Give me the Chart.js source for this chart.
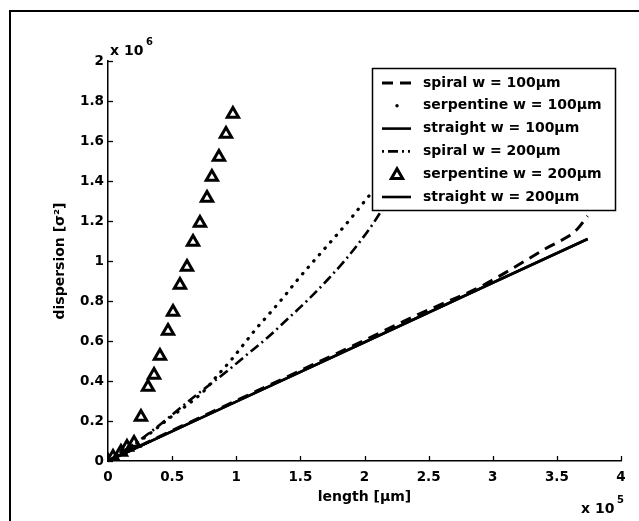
<!DOCTYPE html>
<html><head><meta charset="utf-8">
<script src="https://cdn.jsdelivr.net/npm/chart.js@4.4.0/dist/chart.umd.min.js"></script>
<style>html,body{margin:0;padding:0;background:#fff}#wrap{width:639px;height:521px;position:relative}</style>
</head><body><div id="wrap"><canvas id="c"></canvas></div>
<script>
// length in units of 1e5 um, dispersion in units of 1e6
const spiral100Length = [0, 0.5, 1, 1.5, 2, 2.4, 2.64, 2.9, 3.16, 3.42, 3.58, 3.66, 3.74];
const spiral100Disp   = [0, 0.152, 0.302, 0.452, 0.604, 0.727, 0.795, 0.87, 0.965, 1.065, 1.12, 1.16, 1.225];

const serp100Length = [0, 0.27, 0.48, 0.74, 0.85, 0.96, 1.06, 1.16, 1.27, 1.37, 1.47, 1.57, 1.68, 1.79, 1.89, 1.99, 2.2];
const serp100Disp   = [0, 0.11, 0.215, 0.345, 0.425, 0.505, 0.585, 0.665, 0.745, 0.82, 0.90, 0.975, 1.055, 1.135, 1.21, 1.29, 1.455];

const straight100Length = [0, 1, 2, 3, 3.74];
const straight100Disp   = [0, 0.297, 0.594, 0.891, 1.11];

const spiral200Length = [0, 0.27, 0.46, 0.62, 0.8, 0.93, 1.08, 1.24, 1.4, 1.55, 1.71, 1.85, 1.98, 2.07, 2.15];
const spiral200Disp   = [0, 0.115, 0.21, 0.295, 0.385, 0.45, 0.53, 0.615, 0.71, 0.80, 0.905, 1.005, 1.11, 1.19, 1.27];

const serp200Length = [0, 0.039, 0.101, 0.148, 0.203, 0.257, 0.312, 0.359, 0.405, 0.468, 0.507, 0.561, 0.616, 0.663, 0.717, 0.772, 0.81, 0.865, 0.92, 0.974];
const serp200Disp   = [0, 0.02, 0.045, 0.07, 0.09, 0.22, 0.37, 0.43, 0.525, 0.65, 0.745, 0.88, 0.97, 1.095, 1.19, 1.315, 1.42, 1.52, 1.635, 1.735];

const straight200Length = [0, 1, 2, 3, 3.74];
const straight200Disp   = [0, 0.297, 0.594, 0.891, 1.11];

const seriesLabels = ['spiral w = 100μm', 'serpentine w = 100μm', 'straight w = 100μm',
                      'spiral w = 200μm', 'serpentine w = 200μm', 'straight w = 200μm'];

const FONT = '"DejaVu Sans", sans-serif';
function pts(xs, ys) { return xs.map((x, i) => ({x: x, y: ys[i]})); }
function fmt(v) { return String(Math.round(v * 10) / 10); }

function tri(ctx, cx, cy, r) {
  ctx.beginPath();
  for (let k = 0; k < 3; k++) {
    const a = k * 2 * Math.PI / 3;
    const px = cx + Math.sin(a) * r, py = cy - Math.cos(a) * r;
    if (k === 0) ctx.moveTo(px, py); else ctx.lineTo(px, py);
  }
  ctx.closePath();
}

const decor = {
  id: 'decor',
  afterDatasetsDraw(chart) {
    const ctx = chart.ctx, xs = chart.scales.x, ys = chart.scales.y, a = chart.chartArea;
    ctx.save();
    ctx.strokeStyle = '#000'; ctx.lineWidth = 1.3; ctx.setLineDash([]);
    xs.ticks.forEach(t => { const p = Math.round(xs.getPixelForValue(t.value)) + 0.5;
      ctx.beginPath(); ctx.moveTo(p, a.bottom); ctx.lineTo(p, a.bottom - 5); ctx.stroke(); });
    ys.ticks.forEach(t => { const p = Math.round(ys.getPixelForValue(t.value)) + 0.5;
      ctx.beginPath(); ctx.moveTo(a.left, p); ctx.lineTo(a.left + 5, p); ctx.stroke(); });

    // legend
    const L = 372.5, T = 68.5, R = 615.5, B = 210.5;
    ctx.fillStyle = '#fff'; ctx.fillRect(L, T, R - L, B - T);
    ctx.lineWidth = 1.5; ctx.strokeRect(L, T, R - L, B - T);
    ctx.font = 'bold 14px ' + FONT; ctx.textBaseline = 'middle'; ctx.fillStyle = '#000';
    chart.data.datasets.forEach((ds, i) => {
      const y = 83 + i * 22.8;
      ctx.save();
      ctx.strokeStyle = '#000';
      if (ds.showLine === false) {
        ctx.lineWidth = ds.pointBorderWidth; ctx.fillStyle = '#fff';
        tri(ctx, 397, y + 1, ds.pointRadius); ctx.fill(); ctx.stroke();
      } else if (ds.legendDot) {
        ctx.fillStyle = '#000'; ctx.beginPath(); ctx.arc(397, y, 1.7, 0, Math.PI * 2); ctx.fill();
      } else {
        ctx.lineWidth = ds.borderWidth; ctx.lineCap = ds.borderCapStyle || 'butt';
        ctx.setLineDash(ds.legendDash || ds.borderDash || []);
        ctx.beginPath(); ctx.moveTo(382, y); ctx.lineTo(411, y); ctx.stroke();
      }
      ctx.restore();
      ctx.fillText(ds.label, 423, y);
    });
    ctx.restore();
  },
  afterDraw(chart) {
    const ctx = chart.ctx;
    ctx.save();
    ctx.fillStyle = '#000'; ctx.textBaseline = 'alphabetic'; ctx.textAlign = 'left';
    ctx.font = 'bold 14px ' + FONT;
    ctx.fillText('x 10', 110, 55);
    ctx.fillText('x 10', 581, 513);
    ctx.font = 'bold 10px ' + FONT;
    ctx.fillText('6', 146, 45);
    ctx.fillText('5', 617, 503);
    // outer frame
    ctx.strokeStyle = '#000'; ctx.lineWidth = 2;
    ctx.beginPath(); ctx.moveTo(10, 521); ctx.lineTo(10, 11); ctx.lineTo(639, 11); ctx.stroke();
    ctx.restore();
  }
};

const tickFont = {family: FONT, size: 13.5, weight: 'bold'};
const titleFont = {family: FONT, size: 14, weight: 'bold'};

new Chart(document.getElementById('c'), {
  type: 'scatter',
  data: {
    datasets: [
      {label: seriesLabels[0], data: pts(spiral100Length, spiral100Disp), showLine: true, borderColor: '#000', borderWidth: 3, borderDash: [11, 7], pointRadius: 0, cubicInterpolationMode: 'monotone'},
      {label: seriesLabels[1], data: pts(serp100Length, serp100Disp), showLine: true, borderColor: '#000', borderWidth: 3.2, borderDash: [0.5, 8], borderCapStyle: 'round', pointRadius: 0, cubicInterpolationMode: 'monotone', legendDot: true},
      {label: seriesLabels[2], data: pts(straight100Length, straight100Disp), showLine: true, borderColor: '#000', borderWidth: 2.6, pointRadius: 0, tension: 0},
      {label: seriesLabels[3], data: pts(spiral200Length, spiral200Disp), showLine: true, borderColor: '#000', borderWidth: 2.6, borderDash: [10, 4, 2, 4], pointRadius: 0, cubicInterpolationMode: 'monotone', legendDash: [2, 4, 10, 4, 2, 4, 2]},
      {label: seriesLabels[4], data: pts(serp200Length, serp200Disp), showLine: false, pointStyle: 'triangle', pointRadius: 6.5, pointBorderWidth: 3, pointBorderColor: '#000', pointBackgroundColor: '#fff'},
      {label: seriesLabels[5], data: pts(straight200Length, straight200Disp), showLine: true, borderColor: '#000', borderWidth: 2.6, pointRadius: 0, tension: 0}
    ]
  },
  options: {
    responsive: true, maintainAspectRatio: false, animation: false, events: [], devicePixelRatio: 1,
    layout: {padding: {left: 0, top: 61, right: 18, bottom: 0}},
    plugins: {legend: {display: false}, tooltip: {enabled: false}},
    scales: {
      x: {
        type: 'linear', min: 0, max: 4,
        afterFit(s) { s.height = 60; },
        grid: {display: false, drawTicks: false},
        border: {display: true, color: '#000', width: 1.5},
        ticks: {stepSize: 0.5, padding: 8, font: tickFont, color: '#000', callback: v => fmt(v), maxRotation: 0, autoSkip: false},
        title: {display: true, text: 'length [μm]', font: titleFont, color: '#000', padding: {top: 0, bottom: 15}}
      },
      y: {
        type: 'linear', min: 0, max: 2,
        afterFit(s) { s.width = 108; },
        grid: {display: false, drawTicks: false},
        border: {display: true, color: '#000', width: 1.5},
        ticks: {stepSize: 0.2, padding: 4, font: tickFont, color: '#000', callback: v => fmt(v), autoSkip: false},
        title: {display: true, text: 'dispersion [σ²]', font: titleFont, color: '#000', padding: {top: 52, bottom: 0}}
      }
    }
  },
  plugins: [decor]
});
</script>
</body></html>
